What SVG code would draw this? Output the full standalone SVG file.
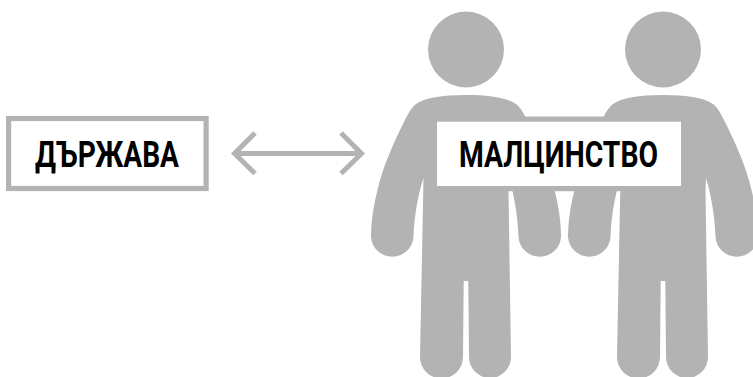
<svg xmlns="http://www.w3.org/2000/svg" width="753" height="377" viewBox="0 0 753 377">
<style>
.g{fill:#b3b3b3}
.box{fill:#fff;stroke:#b3b3b3;stroke-width:5.2}
.t{font-family:"Roboto","Liberation Sans",sans-serif;font-weight:700;font-size:36px;fill:#000}
.c{fill:none;stroke:#b3b3b3;stroke-width:5}
</style>
<defs>
<g id="person">
<circle cx="466" cy="49.5" r="38" class="g"/>
<path class="g" d="M466 95C490 95 508 98 516 104C521 108 524 114 528 122C537 140 549 165 555 192C559 208 561 224 561 237A21.3 21.300 0 0 1 518.500 237C518 220 515 198 509 178L508.500 192L511 357A21 21 0 0 1 469 357L468.300 281H463.700L463 357A21 21 0 0 1 420 357L423.500 178C417 198 414 220 413.500 237A21.300 21.300 0 0 1 371 237C371 224 373 208 377 192C383 165 395 140 404 122C408 114 411 108 416 104C424 98 442 95 466 95Z"/>
</g>
</defs>
<g id="connectors">
<path class="c" d="M234.500 153.500H361.500M255 133L234.500 153.500L255 173.500M341 133L361.500 153.500L341 173.500"/>
</g>
<g id="state">
<rect class="box" x="8.600" y="118.500" width="197.500" height="70"/>
<text class="t" x="35" y="166.700" textLength="144" lengthAdjust="spacingAndGlyphs" lang="bg">ДЪРЖАВА</text>
</g>
<g id="minority">
<use href="#person"/>
<use href="#person" x="197"/>
<rect class="box" x="434.400" y="119.100" width="249.200" height="69.500"/>
<text class="t" x="459" y="166.700" textLength="199" lengthAdjust="spacingAndGlyphs" lang="bg">МАЛЦИНСТВО</text>
</g>
</svg>
